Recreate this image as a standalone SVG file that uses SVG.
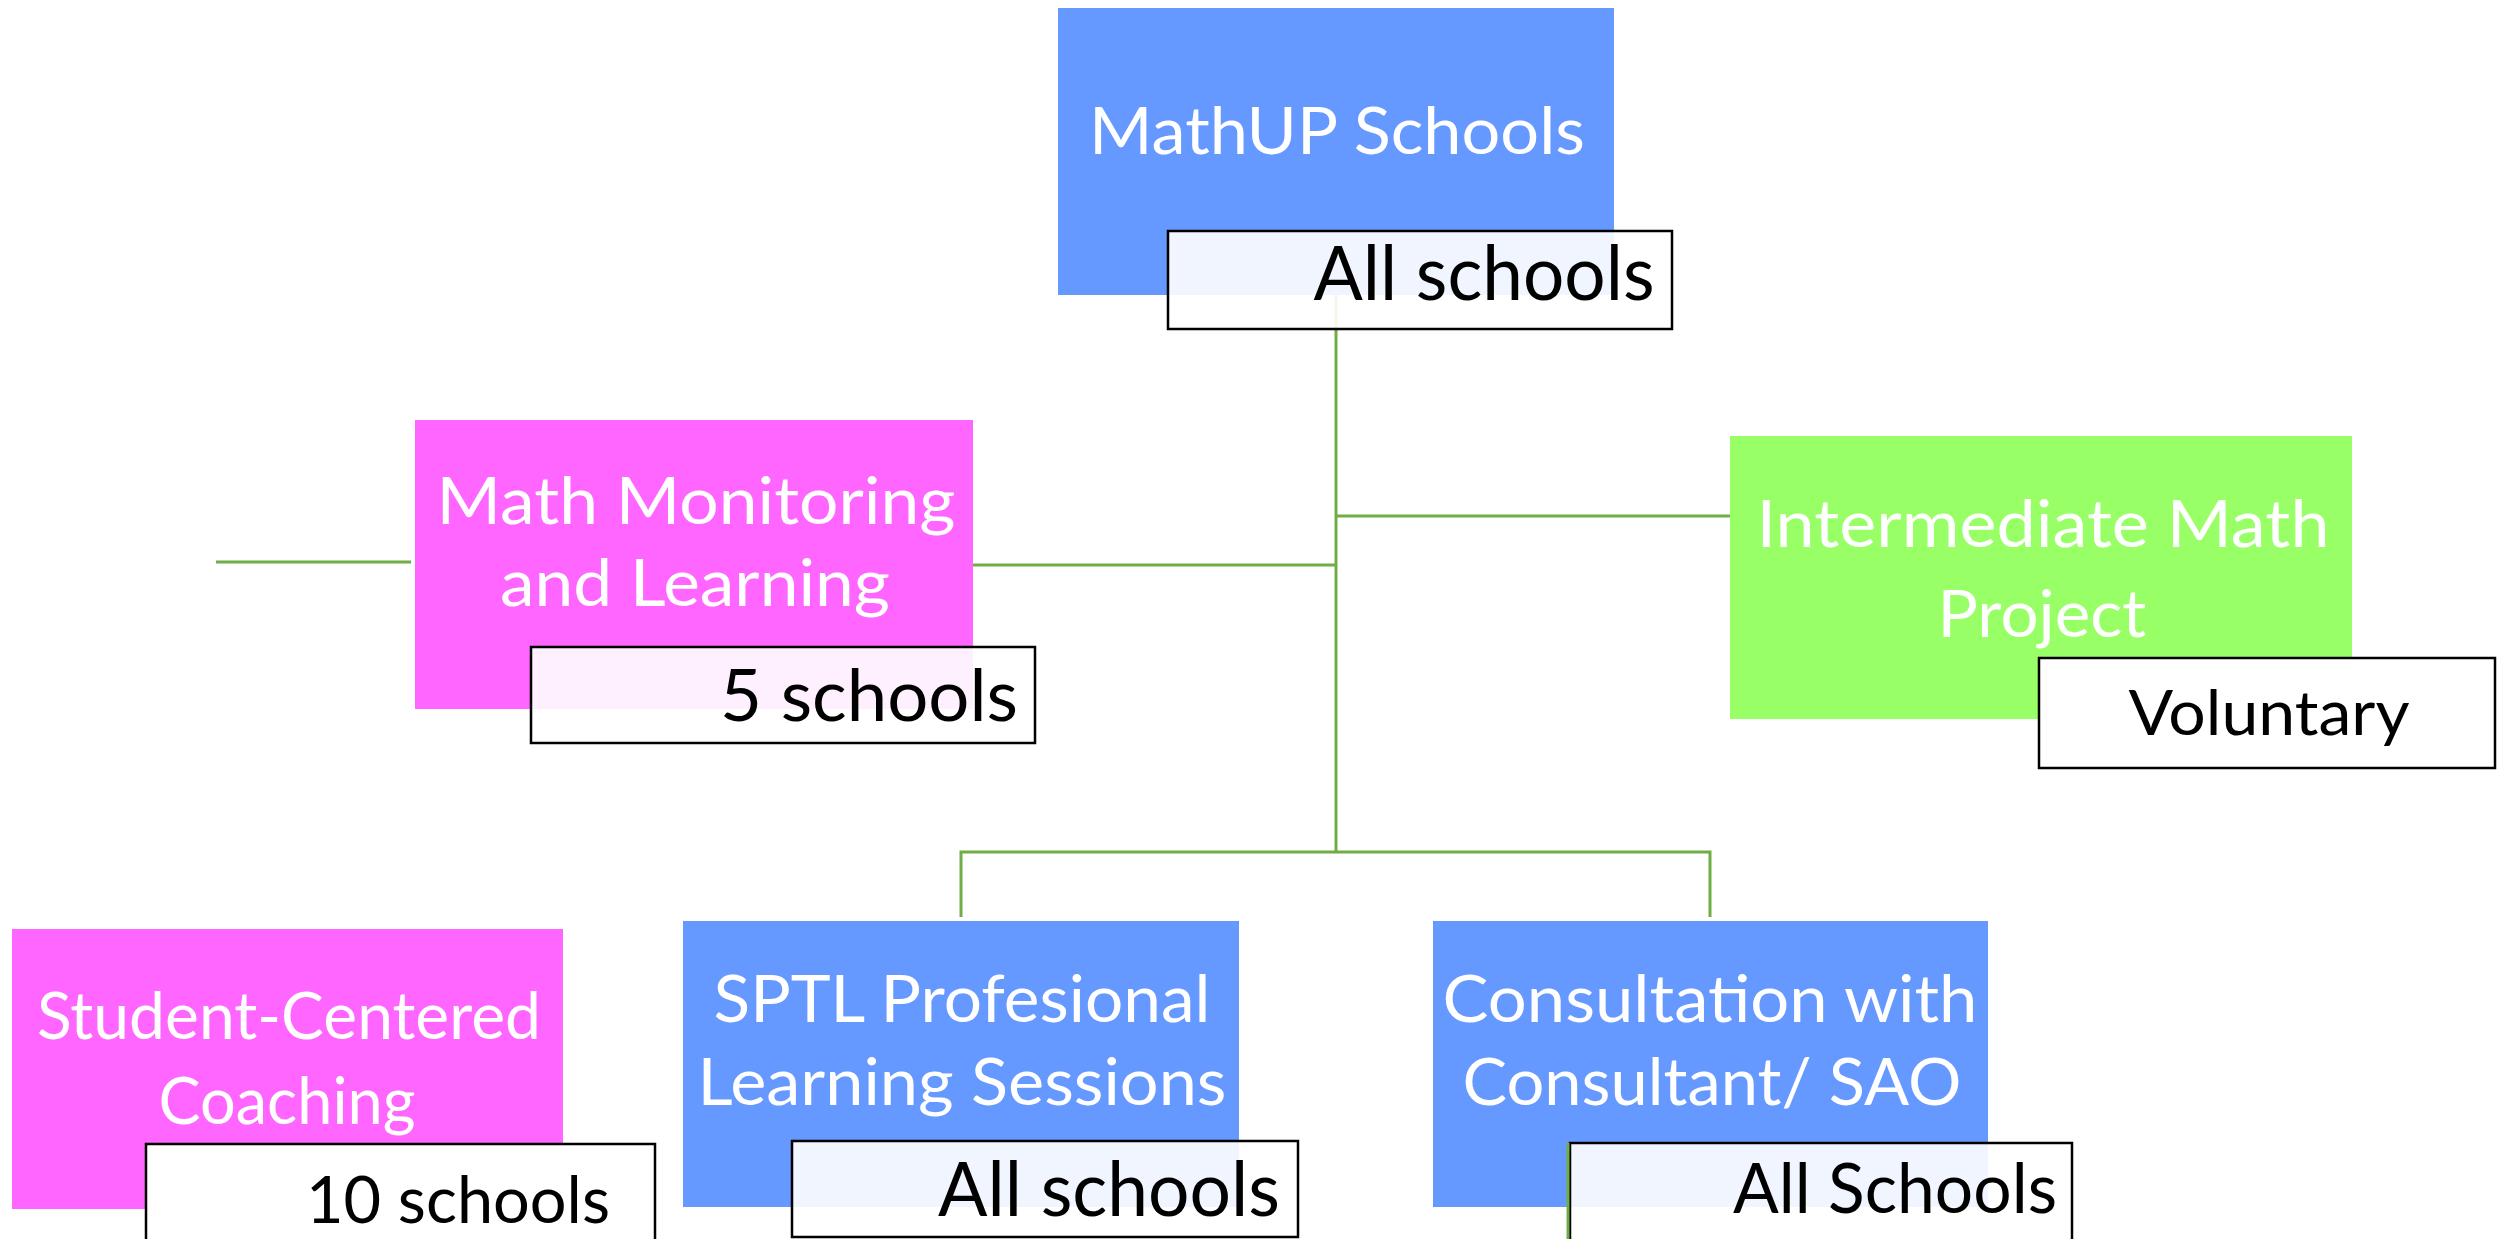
<svg xmlns="http://www.w3.org/2000/svg" width="2510" height="1239" viewBox="0 0 2510 1239">
  <style>
    .blue { fill: #6699ff; }
    .pink { fill: #ff66ff; }
    .green { fill: #99ff66; }
    .title { font-family: Lato, "Open Sans", "Liberation Sans", sans-serif; font-size: 66px; fill: #ffffff; text-anchor: middle; }
    .tag { fill: #ffffff; fill-opacity: 0.9; stroke: #000000; stroke-width: 2.5; }
    .tag.solid { fill-opacity: 1; }
    .tagtext { font-family: Lato, "Open Sans", "Liberation Sans", sans-serif; fill: #000000; text-anchor: middle; }
    .link { stroke: #70ad47; stroke-width: 3; fill: none; }
  </style>
  <rect width="2510" height="1239" fill="#ffffff"/>

  <!-- tree connectors -->
  <g id="connectors">
    <path class="link" d="M1336 295 V852"/>
    <path class="link" d="M973 565 H1336"/>
    <path class="link" d="M1336 516 H1730"/>
    <path class="link" d="M216 562 H411"/>
    <path class="link" d="M961 917 V852 H1710 V917"/>
  </g>

  <g id="mathup">
    <rect class="blue" x="1058" y="8" width="556" height="287"/>
    <text class="title" x="1337" y="154" textLength="496" lengthAdjust="spacingAndGlyphs">MathUP Schools</text>
    <rect class="tag" x="1168" y="231" width="504" height="98"/>
    <text class="tagtext" x="1484" y="300" font-size="75" textLength="341" lengthAdjust="spacingAndGlyphs">All schools</text>
  </g>

  <g id="monitoring">
    <rect class="pink" x="415" y="420" width="558" height="289"/>
    <text class="title" x="696" y="524" textLength="519" lengthAdjust="spacingAndGlyphs">Math Monitoring</text>
    <text class="title" x="695" y="606" textLength="390" lengthAdjust="spacingAndGlyphs">and Learning</text>
    <rect class="tag" x="531" y="647" width="504" height="96"/>
    <text class="tagtext" x="869" y="721" font-size="72" textLength="298" lengthAdjust="spacingAndGlyphs">5 schools</text>
  </g>

  <g id="intermediate">
    <rect class="green" x="1730" y="436" width="622" height="283"/>
    <text class="title" x="2043" y="547" textLength="573" lengthAdjust="spacingAndGlyphs">Intermediate Math</text>
    <text class="title" x="2042" y="637" textLength="209" lengthAdjust="spacingAndGlyphs">Project</text>
    <rect class="tag solid" x="2039" y="658" width="456" height="110"/>
    <text class="tagtext" x="2269" y="735" font-size="62" textLength="281" lengthAdjust="spacingAndGlyphs">Voluntary</text>
  </g>

  <g id="coaching">
    <rect class="pink" x="12" y="929" width="551" height="280"/>
    <text class="title" x="289" y="1039" textLength="504" lengthAdjust="spacingAndGlyphs">Student-Centered</text>
    <text class="title" x="287" y="1124" textLength="257" lengthAdjust="spacingAndGlyphs">Coaching</text>
    <rect class="tag solid" x="146" y="1144" width="509" height="110"/>
    <text class="tagtext" x="458" y="1223" font-size="66" textLength="304" lengthAdjust="spacingAndGlyphs">10 schools</text>
  </g>

  <g id="sptl">
    <rect class="blue" x="683" y="921" width="556" height="286"/>
    <text class="title" x="962" y="1022" textLength="497" lengthAdjust="spacingAndGlyphs">SPTL Profesional</text>
    <text class="title" x="962" y="1105" textLength="529" lengthAdjust="spacingAndGlyphs">Learning Sessions</text>
    <rect class="tag" x="792" y="1141" width="506" height="96"/>
    <text class="tagtext" x="1109" y="1216" font-size="75" textLength="342" lengthAdjust="spacingAndGlyphs">All schools</text>
  </g>

  <g id="consultation">
    <rect class="blue" x="1433" y="921" width="555" height="286"/>
    <text class="title" x="1710" y="1022" textLength="535" lengthAdjust="spacingAndGlyphs">Consultation with</text>
    <text class="title" x="1712" y="1105" textLength="499" lengthAdjust="spacingAndGlyphs">Consultant/ SAO</text>
    <rect class="tag" x="1570" y="1143" width="502" height="110"/>
    <path class="link" d="M1568 1143 V1239"/>
    <text class="tagtext" x="1895" y="1213" font-size="70" textLength="324" lengthAdjust="spacingAndGlyphs">All Schools</text>
  </g>
</svg>
